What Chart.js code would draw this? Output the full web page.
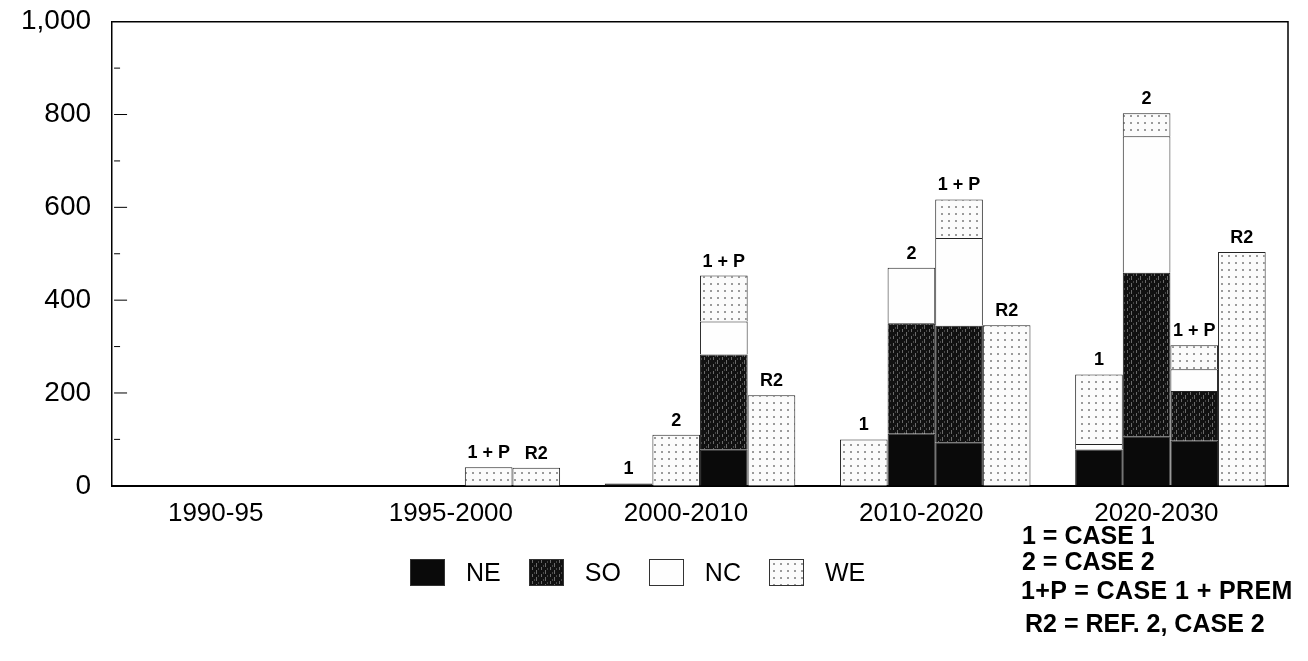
<!DOCTYPE html>
<html>
<head>
<meta charset="utf-8">
<script src="https://cdn.jsdelivr.net/npm/chart.js@4.4.1/dist/chart.umd.min.js"></script>
<style>
  html, body { margin: 0; padding: 0; background: #fff; }
  #wrap { position: relative; width: 1308px; height: 661px; }
  #legend { position: absolute; left: 410px; top: 558px; display: flex; align-items: center;
            font-family: 'Liberation Sans', Arial, sans-serif; font-size: 25px; color: #000; }
  #legend .item { display: flex; align-items: center; margin-right: 28px; }
  #legend canvas { border: 1px solid #333; margin-right: 21px; }
  #notes { position: absolute; left: 1021px; top: 522px; font-family: 'Liberation Sans', Arial, sans-serif;
           font-weight: bold; font-size: 25px; color: #000; }
  #notes div { position: absolute; white-space: nowrap; line-height: 26px; }
</style>
</head>
<body>
<div id="wrap">
  <canvas id="chart"></canvas>
  <div id="legend"></div>
  <div id="notes">
    <div style="top:0px;left:1px">1 = CASE 1</div>
    <div style="top:26px;left:1px">2 = CASE 2</div>
    <div style="top:55px;left:0px;letter-spacing:0.4px">1+P = CASE 1 + PREM</div>
    <div style="top:88px;left:4px">R2 = REF. 2, CASE 2</div>
  </div>
</div>
<script>
const periods = ['1990-95', '1995-2000', '2000-2010', '2010-2020', '2020-2030'];
const cases = ['1', '2', '1+P', 'R2'];
const regions = ['NE', 'SO', 'NC', 'WE'];
const yTicks = [0, 200, 400, 600, 800, 1000];

// case 1
const case1NE = [0, 0, 5, 0, 78];
const case1SO = [0, 0, 0, 0, 0];
const case1NC = [0, 0, 0, 0, 12];
const case1WE = [0, 0, 0, 100, 150];
// case 2
const case2NE = [0, 0, 0, 112, 107];
const case2SO = [0, 0, 0, 238, 352];
const case2NC = [0, 0, 0, 120, 294];
const case2WE = [0, 0, 110, 0, 50];
// case 1 + prem
const case1pNE = [0, 0, 79, 94, 97];
const case1pSO = [0, 0, 204, 251, 107];
const case1pNC = [0, 0, 71, 189, 47];
const case1pWE = [0, 40, 99, 83, 52];
// ref. 2, case 2
const caseR2NE = [0, 0, 0, 0, 0];
const caseR2SO = [0, 0, 0, 0, 0];
const caseR2NC = [0, 0, 0, 0, 0];
const caseR2WE = [0, 39, 195, 346, 504];

const caseData = [
  [case1NE, case1SO, case1NC, case1WE],
  [case2NE, case2SO, case2NC, case2WE],
  [case1pNE, case1pSO, case1pNC, case1pWE],
  [caseR2NE, caseR2SO, caseR2NC, caseR2WE]
];

// scanned-looking fills
function makeTile(w, h, draw) {
  const c = document.createElement('canvas');
  c.width = w; c.height = h;
  draw(c.getContext('2d'));
  return c;
}
const tiles = {
  NE: makeTile(6, 6, g => { g.fillStyle = '#0a0a0a'; g.fillRect(0, 0, 6, 6); }),
  SO: makeTile(9, 7, g => {
    g.fillStyle = '#111'; g.fillRect(0, 0, 9, 7);
    g.fillStyle = '#6a6a6a'; g.fillRect(2, 0, 1, 3); g.fillRect(6, 3, 1, 4);
    g.fillStyle = '#444'; g.fillRect(4, 5, 1, 2); g.fillRect(8, 1, 1, 2);
  }),
  NC: makeTile(6, 6, g => { g.fillStyle = '#fefefe'; g.fillRect(0, 0, 6, 6); }),
  WE: makeTile(7, 7, g => {
    g.fillStyle = '#fbfbfb'; g.fillRect(0, 0, 7, 7);
    g.fillStyle = '#9a9a9a'; g.fillRect(3, 3, 2, 2);
  })
};
const ctx = document.getElementById('chart').getContext('2d');
const fills = {};
regions.forEach(r => { fills[r] = ctx.createPattern(tiles[r], 'repeat'); });

const datasets = [];
cases.forEach((c, ci) => {
  regions.forEach((r, ri) => {
    datasets.push({
      label: r,
      data: caseData[ci][ri],
      stack: 'case' + ci,
      backgroundColor: fills[r],
      borderColor: '#222',
      borderWidth: 1,
      categoryPercentage: 0.81,
      barPercentage: 1.0
    });
  });
});

const font = "'Liberation Sans', Arial, sans-serif";

const framePlugin = {
  id: 'frame',
  afterDraw(chart) {
    const g = chart.ctx;
    const a = chart.chartArea;
    const y = chart.scales.y;
    g.save();
    g.strokeStyle = '#000';
    g.lineWidth = 1.5;
    g.beginPath();
    g.moveTo(a.left, a.top);
    g.lineTo(a.right, a.top);
    g.lineTo(a.right, a.bottom);
    g.stroke();

    // inward ticks, minor every 100
    g.lineWidth = 1;
    for (let v = 100; v < 1000; v += 100) {
      const py = y.getPixelForValue(v);
      const len = v % 200 === 0 ? 13 : 6;
      g.beginPath();
      g.moveTo(a.left + 2, py);
      g.lineTo(a.left + 2 + len, py);
      g.stroke();
    }

    // case labels above each bar
    g.fillStyle = '#000';
    g.font = 'bold 18px ' + font;
    g.textAlign = 'center';
    g.textBaseline = 'alphabetic';
    cases.forEach((c, ci) => {
      const meta = chart.getDatasetMeta(ci * regions.length + regions.length - 1);
      periods.forEach((p, pi) => {
        let total = 0;
        caseData[ci].forEach(arr => { total += arr[pi]; });
        if (total <= 0) return;
        const bar = meta.data[pi];
        g.fillText(c === '1+P' ? '1 + P' : c, bar.x, y.getPixelForValue(total) - 9);
      });
    });
    g.restore();
  }
};

new Chart(ctx, {
  type: 'bar',
  data: { labels: periods, datasets: datasets },
  options: {
    responsive: true,
    maintainAspectRatio: false,
    animation: false,
    layout: { padding: { top: 0, left: 0, right: 20, bottom: 120 } },
    plugins: { legend: { display: false }, tooltip: { enabled: false } },
    scales: {
      x: {
        stacked: true,
        grid: { display: false, drawTicks: false },
        border: { display: true, color: '#000', width: 2 },
        ticks: { color: '#000', font: { family: font, size: 26 }, padding: 12, labelOffset: -14 }
      },
      y: {
        stacked: true,
        min: 0,
        max: 1000,
        afterBuildTicks: axis => { axis.ticks = yTicks.map(v => ({ value: v })); },
        grid: { display: false, drawTicks: false },
        border: { display: true, color: '#000', width: 1.5 },
        ticks: {
          color: '#000',
          font: { family: font, size: 28, lineHeight: 0.05 },
          padding: 21,
          callback: v => v.toLocaleString('en-US')
        }
      }
    }
  },
  plugins: [framePlugin]
});

// legend
const legend = document.getElementById('legend');
regions.forEach(r => {
  const item = document.createElement('div');
  item.className = 'item';
  const sw = document.createElement('canvas');
  sw.width = 33; sw.height = 25;
  const sg = sw.getContext('2d');
  sg.fillStyle = sg.createPattern(tiles[r], 'repeat');
  sg.fillRect(0, 0, 33, 25);
  const txt = document.createElement('span');
  txt.textContent = r;
  item.appendChild(sw);
  item.appendChild(txt);
  legend.appendChild(item);
});
</script>
</body>
</html>
